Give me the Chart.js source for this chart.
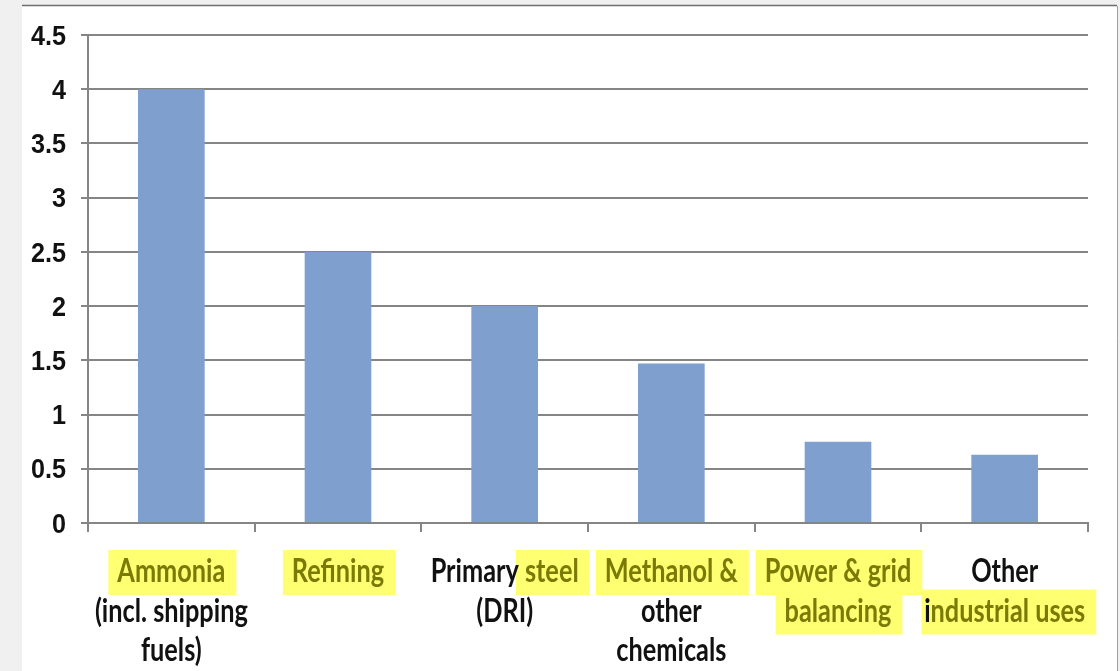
<!DOCTYPE html>
<html>
<head>
<meta charset="utf-8">
<script src="https://cdn.jsdelivr.net/npm/chart.js@4.4.0/dist/chart.umd.min.js"></script>
<style>
  html, body { margin: 0; padding: 0; background: #f0f0f0; }
  #wrap { width: 1120px; height: 671px; position: relative; }
</style>
</head>
<body>
<div id="wrap"><canvas id="c" width="1120" height="671"></canvas></div>
<script>
// ---- data ----
const categories = [
  "Ammonia (incl. shipping fuels)",
  "Refining",
  "Primary steel (DRI)",
  "Methanol & other chemicals",
  "Power & grid balancing",
  "Other industrial uses"
];
const labelLines = [
  ["Ammonia", "(incl. shipping", "fuels)"],
  ["Refining"],
  ["Primary steel", "(DRI)"],
  ["Methanol &", "other", "chemicals"],
  ["Power & grid", "balancing"],
  ["Other", "industrial uses"]
];
// highlighted spans: [lineIndex, startChar, endChar]
const highlights = [
  [[0, 0, 7]],
  [[0, 0, 8]],
  [[0, 8, 13]],
  [[0, 0, 10]],
  [[0, 0, 12], [1, 0, 9]],
  [[1, 1, 15]]
];
const values = [4.0, 2.5, 2.0, 1.47, 0.75, 0.63];
const yMin = 0, yMax = 4.5, yStep = 0.5;

const XFONT = 'bold 32px Lato, "Open Sans", "Liberation Sans", sans-serif';
const YFONT = 'bold 28px "Liberation Sans", Arial, sans-serif';
const GRID = '#858585';

const pagePlugin = {
  id: 'page',
  beforeDraw(chart) {
    const ctx = chart.ctx;
    ctx.save();
    ctx.fillStyle = '#f0f0f0';
    ctx.fillRect(0, 0, chart.width, chart.height);
    ctx.fillStyle = '#ffffff';
    ctx.fillRect(22, 6, 1095, chart.height - 6);
    ctx.strokeStyle = '#6e6e6e';
    ctx.lineWidth = 1.5;
    ctx.beginPath(); ctx.moveTo(22, 5.5); ctx.lineTo(1117, 5.5); ctx.stroke();
    ctx.strokeStyle = '#a0a0a0';
    ctx.lineWidth = 1;
    ctx.beginPath(); ctx.moveTo(1117.5, 6); ctx.lineTo(1117.5, chart.height); ctx.stroke();
    ctx.restore();
  },
  afterDraw(chart) {
    const ctx = chart.ctx;
    const xs = chart.scales.x;
    const ys = chart.scales.y;
    ctx.save();
    // ---- y tick labels (squeezed, Calibri-like) ----
    ctx.font = YFONT;
    ctx.textBaseline = 'middle';
    ctx.textAlign = 'right';
    ctx.fillStyle = '#111111';
    const syx = 35 / ctx.measureText('4.5').width;
    ys.ticks.forEach(t => {
      const py = ys.getPixelForValue(t.value);
      ctx.save();
      ctx.translate(66, py + 2);
      ctx.scale(syx, 1);
      ctx.fillText(String(t.value), 0, 0);
      ctx.restore();
    });
    // ---- x labels ----
    ctx.font = XFONT;
    ctx.textBaseline = 'middle';
    ctx.textAlign = 'left';
    const sx = 108 / ctx.measureText('Ammonia').width; // horizontal squeeze like the source
    const lh = 39.5;
    const y0 = xs.top + 49;
    labelLines.forEach((lines, i) => {
      const cx = xs.getPixelForValue(i);
      (highlights[i] || []).forEach(([li, s, e]) => {
        const line = lines[li];
        const w = ctx.measureText(line).width * sx;
        const x0 = cx - w / 2;
        const pre = ctx.measureText(line.slice(0, s)).width * sx;
        const seg = ctx.measureText(line.slice(s, e)).width * sx;
        const cy = y0 + li * lh;
        ctx.fillStyle = '#ffff72';
        ctx.fillRect(x0 + pre - 9, cy - 22, seg + 20, 45);
      });
    });
    labelLines.forEach((lines, i) => {
      const cx = xs.getPixelForValue(i);
      lines.forEach((line, li) => {
        const w = ctx.measureText(line).width;
        const cy = y0 + li * lh;
        const hs = (highlights[i] || []).filter(h => h[0] === li);
        let pos = 0;
        const parts = [];
        hs.forEach(([, s, e]) => {
          if (s > pos) parts.push([line.slice(pos, s), false]);
          parts.push([line.slice(s, e), true]);
          pos = e;
        });
        if (pos < line.length) parts.push([line.slice(pos), false]);
        ctx.save();
        ctx.translate(cx, cy);
        ctx.scale(sx, 1);
        let x = -w / 2;
        parts.forEach(([t, hl]) => {
          ctx.fillStyle = hl ? '#7a7a06' : '#111111';
          ctx.fillText(t, x, 0);
          x += ctx.measureText(t).width;
        });
        ctx.restore();
      });
    });
    ctx.restore();
  }
};

new Chart(document.getElementById('c'), {
  type: 'bar',
  data: {
    labels: categories,
    datasets: [{
      data: values,
      backgroundColor: '#7f9fcf',
      borderWidth: 0,
      barPercentage: 0.4,
      categoryPercentage: 1.0
    }]
  },
  options: {
    responsive: false,
    animation: false,
    devicePixelRatio: 1,
    layout: { padding: { left: 0, right: 32, top: 35, bottom: 0 } },
    plugins: { legend: { display: false }, tooltip: { enabled: false }, title: { display: false } },
    scales: {
      x: {
        grid: { display: true, offset: true, drawOnChartArea: false, drawTicks: true, tickLength: 9, color: GRID, lineWidth: 2 },
        border: { display: true, color: GRID, width: 2 },
        ticks: { display: false },
        afterFit(scale) { scale.height = 671 - 523; }
      },
      y: {
        min: yMin, max: yMax,
        grid: { color: GRID, lineWidth: 2, drawTicks: true, tickLength: 7 },
        border: { display: true, color: GRID, width: 2 },
        ticks: { stepSize: yStep, display: false },
        afterFit(scale) { scale.width = 88; }
      }
    }
  },
  plugins: [pagePlugin]
});
</script>
</body>
</html>
